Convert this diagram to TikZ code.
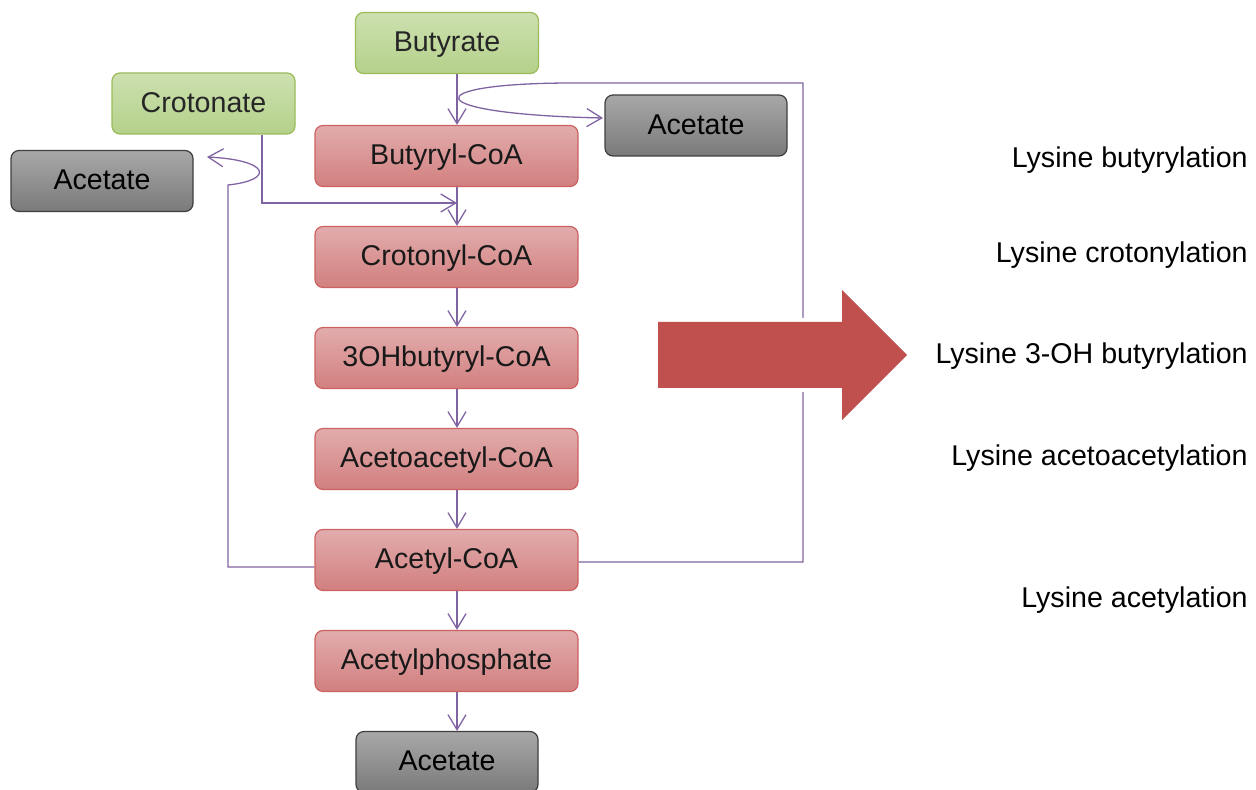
\documentclass[tikz,border=0pt]{standalone}
\usepackage{fontspec}
\setmainfont{Liberation Sans}
\usetikzlibrary{arrows.meta}
\definecolor{flowpurple}{HTML}{8064A2}
\definecolor{greentop}{HTML}{CDE0B0}
\definecolor{greenbot}{HTML}{B4D18A}
\definecolor{greenedge}{HTML}{9BBB59}
\definecolor{redtop}{HTML}{E2ACAC}
\definecolor{redbot}{HTML}{D27F7F}
\definecolor{rededge}{HTML}{CC6262}
\definecolor{graytop}{HTML}{A8A8A8}
\definecolor{graybot}{HTML}{7A7A7A}
\definecolor{grayedge}{HTML}{3F3F3F}
\definecolor{bigred}{HTML}{C0504D}
\begin{document}
\begin{tikzpicture}[x=0.5pt,y=-0.5pt,
    box/.style={rounded corners=4pt,line width=0.6pt,minimum height=30.5pt,
      text height=0.86em,text depth=0pt,inner sep=0pt,
      font=\fontsize{14.3}{17}\selectfont},
    greenbox/.style={box,draw=greenedge,top color=greentop,bottom color=greenbot,
      minimum width=91.5pt,text=black!85},
    redbox/.style={box,draw=rededge,top color=redtop,bottom color=redbot,
      minimum width=131.5pt,text=black!90},
    graybox/.style={box,draw=grayedge,top color=graytop,bottom color=graybot,
      minimum width=91pt,text=black},
    flow/.style={flowpurple,line width=0.65pt},
    flowarrow/.style={flow,-{Straight Barb[length=7.5pt,width=9pt]}},
    modlabel/.style={anchor=base east,inner sep=0pt,
      font=\fontsize{14.3}{17}\selectfont}]
  \useasboundingbox (0,0) rectangle (1256,790);
  % substrates and side products
  \node[greenbox] (butyrate) at (447,43) {Butyrate};
  \node[greenbox] (crotonate) at (203.5,103.5) {Crotonate};
  \node[graybox] (acetL) at (102,181) {Acetate};
  \node[graybox] (acetR) at (696,125.5) {Acetate};
  % CoA chain
  \node[redbox] (butCoA) at (446.5,156) {Butyryl-CoA};
  \node[redbox] (crotCoA) at (446.5,257) {Crotonyl-CoA};
  \node[redbox] (ohbutCoA) at (446.5,358) {3OHbutyryl-CoA};
  \node[redbox] (acacCoA) at (446.5,459) {Acetoacetyl-CoA};
  \node[redbox] (acCoA) at (446.5,560) {Acetyl-CoA};
  \node[redbox] (acP) at (446.5,661) {Acetylphosphate};
  \node[graybox] (acetB) at (447,762) {Acetate};
  % modifications
  \node[modlabel] (lysBut) at (1248,168) {Lysine butyrylation};
  \node[modlabel] (lysCrot) at (1248,263) {Lysine crotonylation};
  \node[modlabel] (lysOH) at (1248,364) {Lysine 3-OH butyrylation};
  \node[modlabel] (lysAcac) at (1248,465) {Lysine acetoacetylation};
  \node[modlabel] (lysAc) at (1248,607) {Lysine acetylation};
  % connectors
  \coordinate (spine) at (457,0);
  \foreach \a/\b in {butyrate/butCoA,butCoA/crotCoA,crotCoA/ohbutCoA,
      ohbutCoA/acacCoA,acacCoA/acCoA,acCoA/acP,acP/acetB}
    \draw[flowarrow] (\a.south -| spine) -- (\b.north -| spine);
  \coordinate (crotKnee) at (262,203);
  \draw[flowarrow] (crotonate.south -| crotKnee) -- (crotKnee) -- (crotKnee -| spine);
  \coordinate (loopR) at (803,562);
  \coordinate (loopTop) at (803,83);
  \coordinate (acetRin) at (603,118);
  \draw[flowarrow] (acCoA.east |- loopR) -- (loopR) -- (loopTop) -- (573,83)
    .. controls (416,83) and (416,114) .. (acetRin);
  \coordinate (loopL) at (228,567);
  \coordinate (hookL) at (228,185);
  \coordinate (acetLin) at (207,157);
  \draw[flowarrow] (acCoA.west |- loopL) -- (loopL) -- (hookL)
    .. controls (275,180) and (270,160) .. (acetLin);
  % big arrow
  \fill[bigred,preaction={draw=white,line width=4pt}]
    (658,322) -- (842,322) -- (842,290) -- (907,355) -- (842,420)
    -- (842,388) -- (658,388) -- cycle;
\end{tikzpicture}
\end{document}
